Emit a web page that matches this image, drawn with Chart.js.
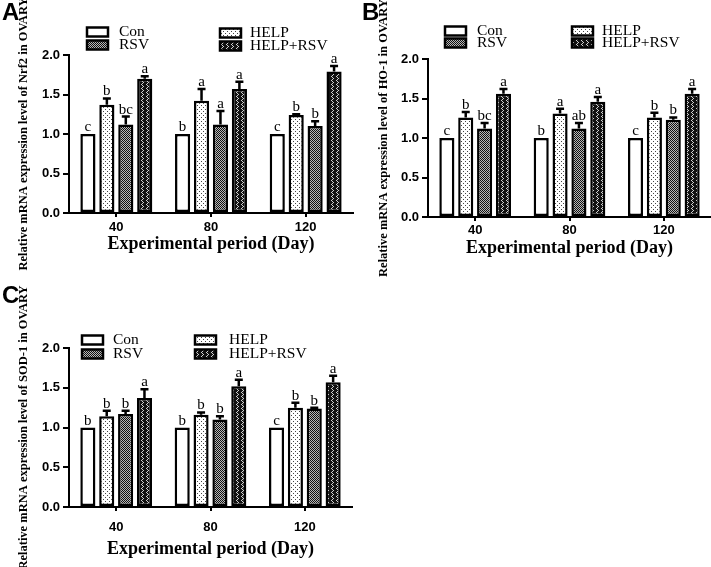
<!DOCTYPE html>
<html>
<head>
<meta charset="utf-8">
<script src="https://cdn.jsdelivr.net/npm/chart.js@4.4.1/dist/chart.umd.min.js"></script>
<style>
  body { margin: 0; background: #fff; }
  #wrap { position: relative; width: 711px; height: 567px; overflow: hidden; }
  canvas { position: absolute; }
  .tag { position: absolute; font: bold 24px "Liberation Sans", Arial, sans-serif; color: #000; line-height: 24px; }
</style>
</head>
<body>
<div id="wrap">
  <canvas id="chartA" width="360" height="280" style="left:0;top:0"></canvas>
  <canvas id="chartB" width="351" height="280" style="left:360px;top:0"></canvas>
  <canvas id="chartC" width="360" height="287" style="left:0;top:280px"></canvas>
  <div class="tag" style="left:2px;top:0">A</div>
  <div class="tag" style="left:362px;top:0">B</div>
  <div class="tag" style="left:2px;top:283px">C</div>
</div>
<script>
const days = ['40', '80', '120'];
const groups = ['Con', 'HELP', 'RSV', 'HELP+RSV'];

// Nrf2
const nrf2Con = [1.00, 1.00, 1.00];
const nrf2Help = [1.37, 1.42, 1.24];
const nrf2Rsv = [1.12, 1.12, 1.10];
const nrf2Both = [1.70, 1.57, 1.79];
const nrf2SemHelp = [0.08, 0.15, 0.01];
const nrf2SemRsv = [0.10, 0.17, 0.06];
const nrf2SemBoth = [0.03, 0.09, 0.07];
const nrf2Letters = [['c', 'b', 'c'], ['b', 'a', 'b'], ['bc', 'a', 'b'], ['a', 'a', 'a']];

// HO-1
const ho1Con = [1.00, 1.00, 1.00];
const ho1Help = [1.26, 1.31, 1.26];
const ho1Rsv = [1.12, 1.12, 1.23];
const ho1Both = [1.56, 1.46, 1.56];
const ho1SemHelp = [0.07, 0.06, 0.06];
const ho1SemRsv = [0.07, 0.07, 0.03];
const ho1SemBoth = [0.06, 0.06, 0.06];
const ho1Letters = [['c', 'b', 'c'], ['b', 'a', 'b'], ['bc', 'ab', 'b'], ['a', 'a', 'a']];

// SOD-1
const sodCon = [1.00, 1.00, 1.00];
const sodHelp = [1.14, 1.16, 1.25];
const sodRsv = [1.17, 1.10, 1.24];
const sodBoth = [1.37, 1.52, 1.57];
const sodSemHelp = [0.07, 0.03, 0.06];
const sodSemRsv = [0.04, 0.04, 0.01];
const sodSemBoth = [0.11, 0.08, 0.08];
const sodLetters = [['b', 'b', 'c'], ['b', 'b', 'b'], ['b', 'b', 'b'], ['a', 'a', 'a']];

const yTicks = [0, 0.5, 1.0, 1.5, 2.0];
const noSem = [0, 0, 0];

// little tiles for the GraphPad-style fills
function tile(w, h, bg, fg, pts) {
  const c = document.createElement('canvas');
  c.width = w; c.height = h;
  const g = c.getContext('2d');
  g.fillStyle = bg; g.fillRect(0, 0, w, h);
  g.fillStyle = fg;
  pts.forEach(p => g.fillRect(p[0], p[1], 1, 1));
  return g.createPattern(c, 'repeat');
}
function fills() {
  return [
    '#ffffff',
    tile(4, 4, '#ffffff', '#444', [[1, 1], [3, 3]]),
    tile(2, 2, '#b8b8b8', '#111', [[0, 0], [1, 1]]),
    tile(5, 4, '#111111', '#d0d0d0', [[1, 0], [2, 1], [3, 2], [2, 3]])
  ];
}

const serif = '"Liberation Serif", "Times New Roman", serif';
const sans = '"Liberation Sans", Arial, sans-serif';

function makeChart(id, p) {
  const ctx = document.getElementById(id).getContext('2d');
  const f = fills();
  const series = [p.con, p.help, p.rsv, p.both];
  const sems = [noSem, p.semHelp, p.semRsv, p.semBoth];

  const extras = {
    id: 'extras',
    afterDatasetsDraw(chart) {
      const c = chart.ctx, y = chart.scales.y;
      chart.data.datasets.forEach((ds, i) => {
        chart.getDatasetMeta(i).data.forEach((bar, j) => {
          const top = y.getPixelForValue(ds.data[j] + ds.sem[j]);
          c.save();
          c.strokeStyle = '#000';
          c.lineWidth = 2.5;
          if (ds.sem[j] > 0) {
            c.beginPath();
            c.moveTo(bar.x, bar.y);
            c.lineTo(bar.x, top);
            c.moveTo(bar.x - 4, top);
            c.lineTo(bar.x + 4, top);
            c.stroke();
          }
          c.fillStyle = '#000';
          c.font = '15px ' + serif;
          c.textAlign = 'center';
          c.textBaseline = 'alphabetic';
          c.fillText(ds.letters[j], bar.x, top - 3);
          c.restore();
        });
      });
    },
    afterDraw(chart) {
      const c = chart.ctx;
      chart.data.datasets.forEach((ds, i) => {
        const [bx, by, tx] = p.legend[i];
        c.save();
        c.fillStyle = ds.backgroundColor;
        c.fillRect(bx, by - 4.5, 21, 9);
        c.strokeStyle = '#000';
        c.lineWidth = 2.5;
        c.strokeRect(bx, by - 4.5, 21, 9);
        c.fillStyle = '#000';
        c.font = '15.5px ' + serif;
        c.textBaseline = 'middle';
        c.fillText(ds.label, tx, by);
        c.restore();
      });
    }
  };

  return new Chart(ctx, {
    type: 'bar',
    data: {
      labels: days,
      datasets: groups.map((g, i) => ({
        label: g,
        data: series[i],
        sem: sems[i],
        letters: p.letters[i],
        backgroundColor: f[i],
        borderColor: '#000',
        borderWidth: 2.5,
        borderSkipped: false,
        categoryPercentage: 0.8,
        barPercentage: 0.8
      }))
    },
    options: {
      responsive: false,
      animation: false,
      devicePixelRatio: 1,
      layout: { padding: { top: p.top, right: p.right, left: 0, bottom: 0 } },
      plugins: { legend: { display: false }, tooltip: { enabled: false } },
      scales: {
        x: {
          offset: true,
          grid: { drawOnChartArea: false, offset: false, tickLength: 4, color: '#000', lineWidth: 2 },
          border: { color: '#000', width: 2 },
          ticks: { color: '#000', padding: p.xTickPad, font: { family: sans, weight: 'bold', size: 13 } },
          title: {
            display: true, text: 'Experimental period (Day)', color: '#000',
            font: { family: serif, weight: 'bold', size: 18 },
            padding: { top: 0, bottom: p.xTitlePad }
          },
          afterFit(s) { s.height = p.xHeight; }
        },
        y: {
          min: 0, max: 2,
          afterBuildTicks(s) { s.ticks = yTicks.map(v => ({ value: v })); },
          grid: { drawOnChartArea: false, tickLength: 6, color: '#000', lineWidth: 2 },
          border: { color: '#000', width: 2 },
          ticks: {
            color: '#000', padding: 3,
            font: { family: sans, weight: 'bold', size: 13 },
            callback: v => v.toFixed(1)
          },
          title: {
            display: true, text: p.yTitle, color: '#000',
            font: { family: serif, weight: 'bold', size: 12.5 },
            padding: { top: 16, bottom: 0 }
          },
          afterFit(s) { s.width = p.yWidth; }
        }
      }
    },
    plugins: [extras]
  });
}

makeChart('chartA', {
  con: nrf2Con, help: nrf2Help, rsv: nrf2Rsv, both: nrf2Both,
  semHelp: nrf2SemHelp, semRsv: nrf2SemRsv, semBoth: nrf2SemBoth, letters: nrf2Letters,
  yTitle: 'Relative mRNA expression level of Nrf2 in OVARY',
  top: 55, right: 7, yWidth: 69, xHeight: 67, xTickPad: 3, xTitlePad: 25,
  legend: [[87, 32, 119], [220, 33, 250], [87, 45, 119], [220, 46, 250]]
});

makeChart('chartB', {
  con: ho1Con, help: ho1Help, rsv: ho1Rsv, both: ho1Both,
  semHelp: ho1SemHelp, semRsv: ho1SemRsv, semBoth: ho1SemBoth, letters: ho1Letters,
  yTitle: 'Relative mRNA expression level of HO-1 in OVARY',
  top: 59, right: 0, yWidth: 68, xHeight: 63, xTickPad: 2, xTitlePad: 21,
  legend: [[85, 31, 117], [212, 31, 242], [85, 43, 117], [212, 43, 242]]
});

makeChart('chartC', {
  con: sodCon, help: sodHelp, rsv: sodRsv, both: sodBoth,
  semHelp: sodSemHelp, semRsv: sodSemRsv, semBoth: sodSemBoth, letters: sodLetters,
  yTitle: 'Relative mRNA expression level of SOD-1 in OVARY',
  top: 68, right: 8, yWidth: 69, xHeight: 60, xTickPad: 9, xTitlePad: 7,
  legend: [[82, 60, 113], [195, 60, 229], [82, 74, 113], [195, 74, 229]]
});
</script>
</body>
</html>
